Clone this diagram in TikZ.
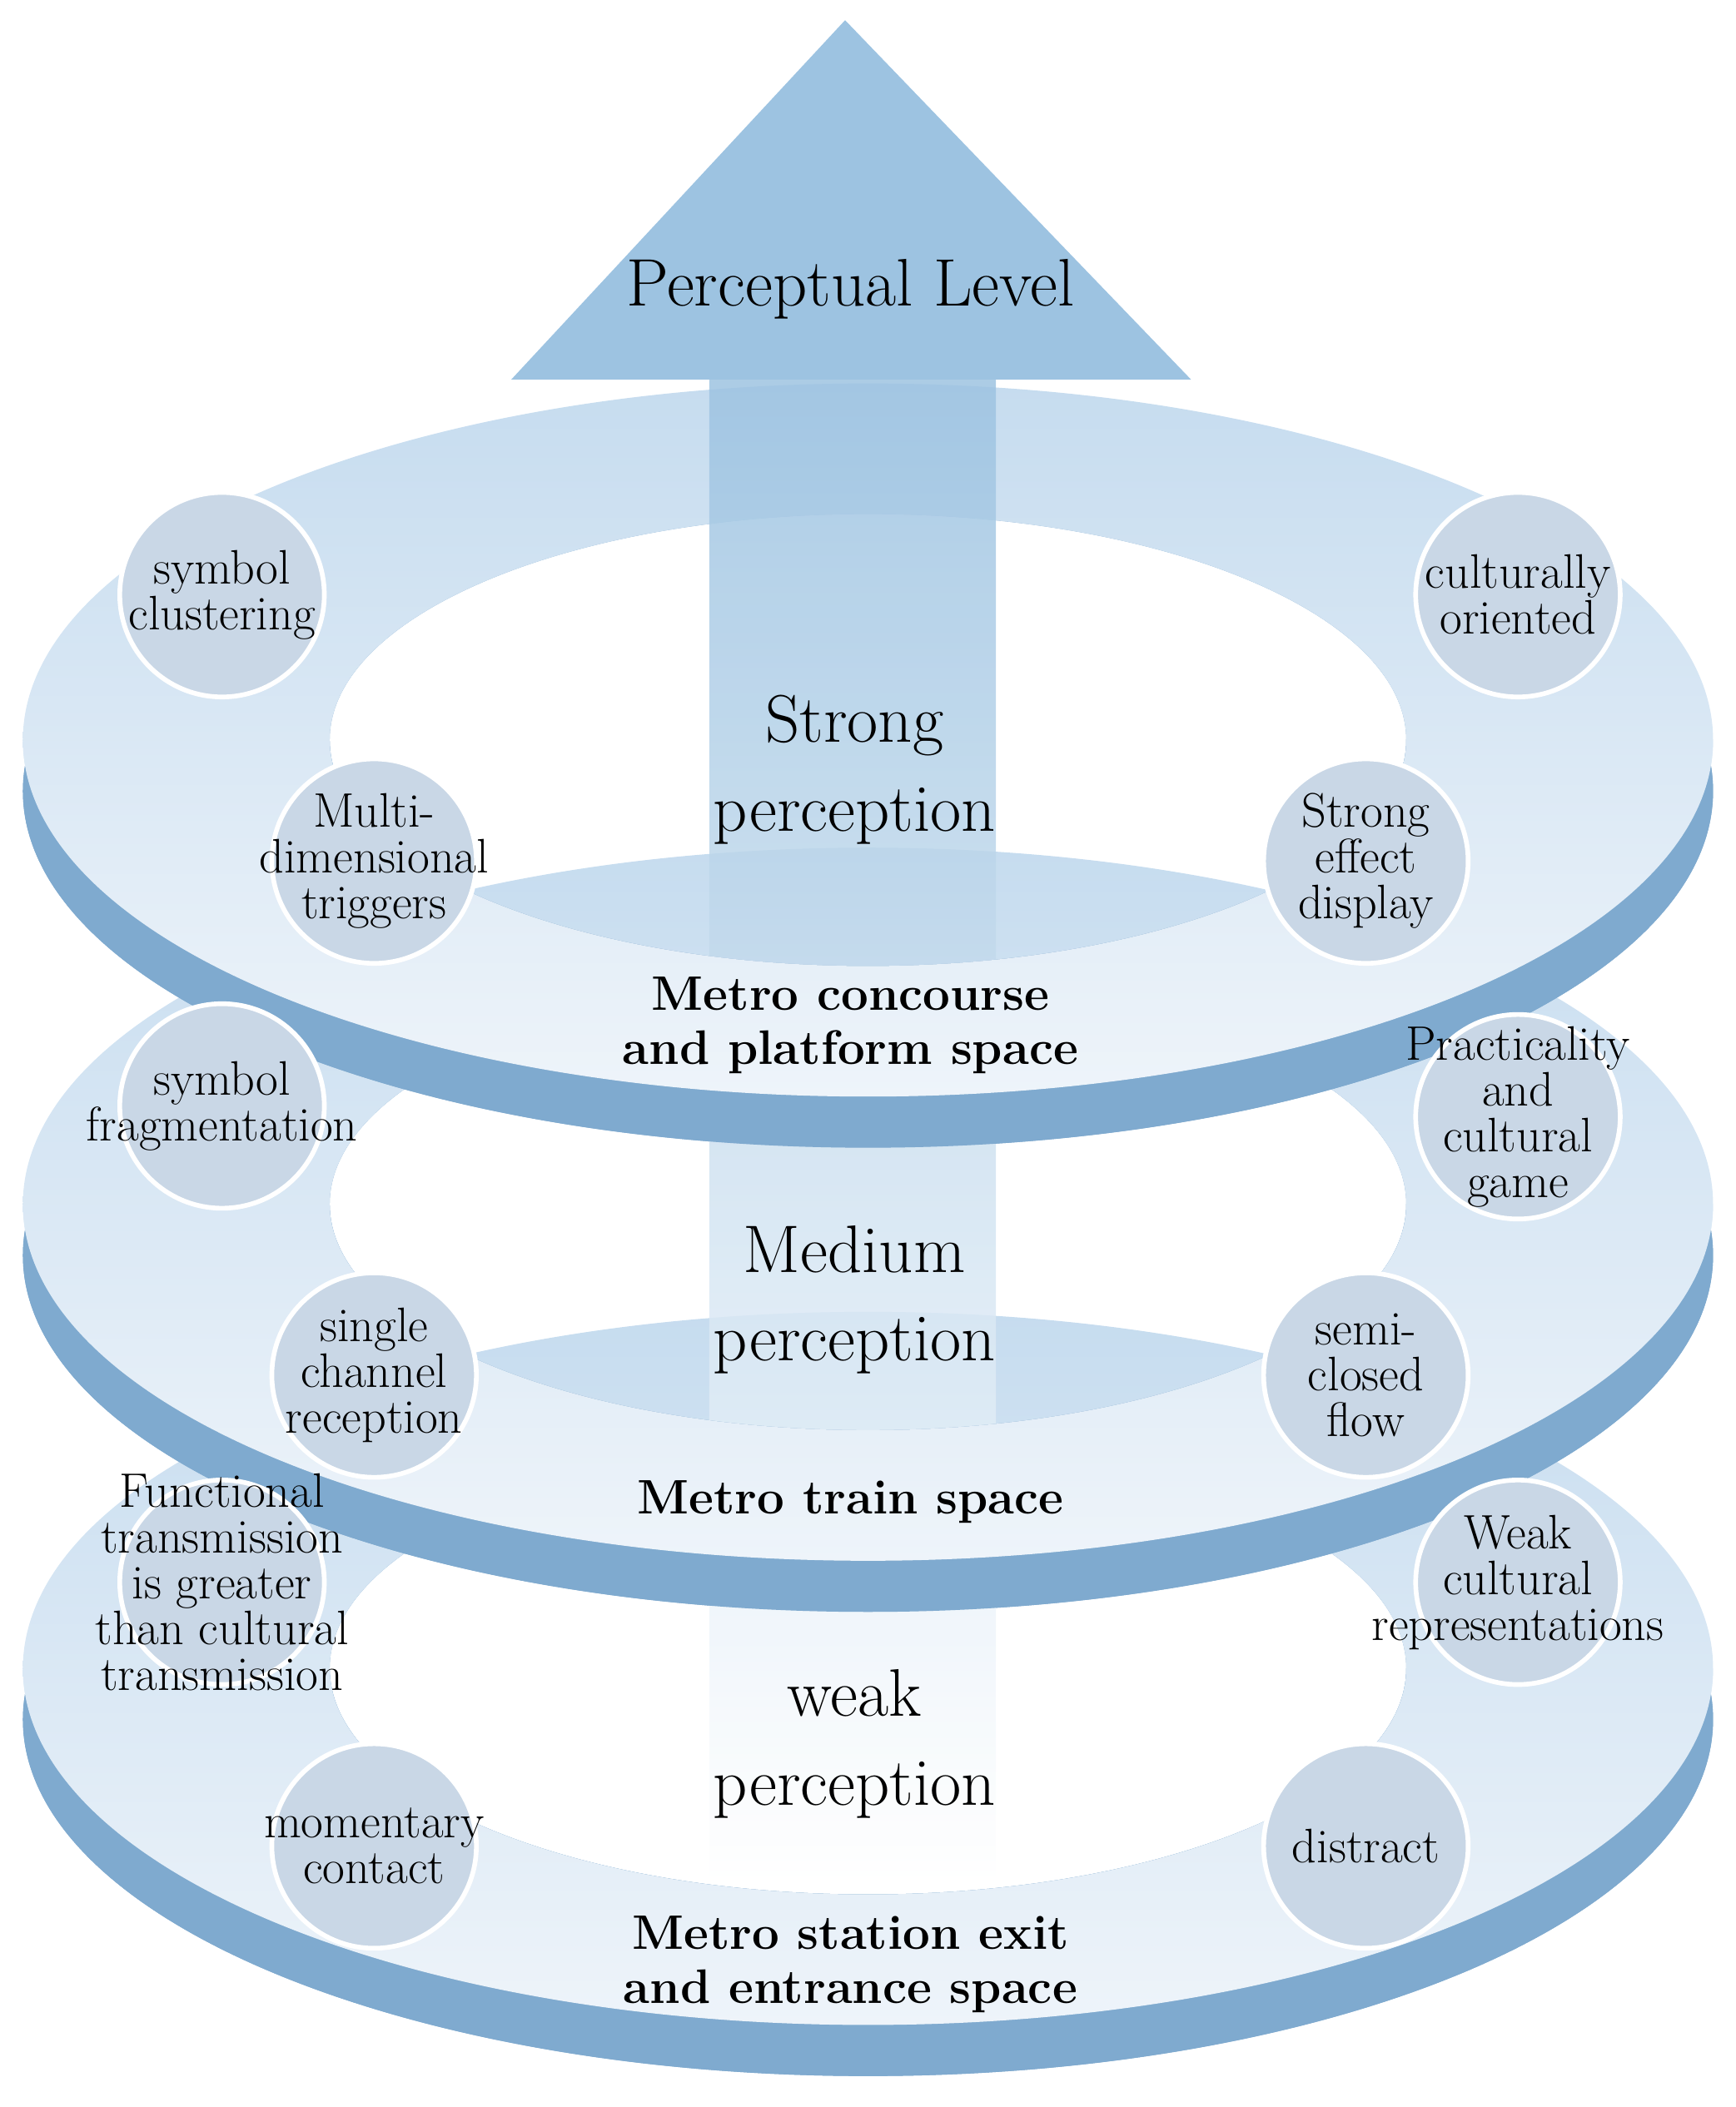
\documentclass[tikz,border=0pt]{standalone}
\usepackage{tikz}

\definecolor{ringtop}{HTML}{C6DCEF}
\definecolor{ringbot}{HTML}{EEF4FA}
\definecolor{ringside}{HTML}{7FAACF}
\definecolor{arrowblue}{HTML}{9DC3E1}
\definecolor{dotfill}{HTML}{C9D7E6}

\tikzset{
  RingSurface/.style = {even odd rule, top color=ringtop, bottom color=ringbot},
  RingSide/.style    = {even odd rule, fill=ringside},
  DotText/.style     = {align=center, inner sep=0pt,
                        font=\fontsize{36}{34}\selectfont},
  Dot/.style         = {circle, draw=white, line width=3.5pt, fill=dotfill,
                        minimum size=152pt, inner sep=0pt,
                        label={[DotText]center:#1}},
  SmallText/.style   = {DotText/.append style={font=\fontsize{31}{30}\selectfont}},
  TinyText/.style    = {DotText/.append style={font=\fontsize{23}{28}\selectfont}},
  BigLabel/.style    = {align=center, font=\fontsize{50}{66}\selectfont},
  PlaceLabel/.style  = {align=center, font=\bfseries\fontsize{36}{40}\selectfont}
}

% one ring, #1 = centre y
\newcommand\discring[1]{%
  \fill[RingSide] (645,#1+38) ellipse [x radius=628, y radius=265]
                  (645,#1) ellipse [x radius=400, y radius=168];
  \shade[RingSurface] (645,#1) ellipse [x radius=628, y radius=265]
                      (645,#1) ellipse [x radius=400, y radius=168];}
\newcommand\ringfront[1]{%
  \begin{scope}
    \clip (0,#1) rectangle (1290,1566);
    \discring{#1}
  \end{scope}}

\begin{document}
\begin{tikzpicture}[x=1pt,y=-1pt]
  \useasboundingbox (0,0) rectangle (1290,1566);

  % rings
  \discring{1240}
  \discring{895}
  \discring{550}

  % arrow
  \shade[top color=arrowblue, bottom color=white, opacity=0.85]
    (527,282) rectangle (740,1400);
  \fill[arrowblue] (380,282) -- (628,15) -- (885,282) -- cycle;

  \ringfront{1240}
  \ringfront{895}
  \ringfront{550}

  \node[BigLabel] (level) at (632,215) {Perceptual Level};

  % top ring
  \node[Dot={symbol\\clustering}] (clus) at (165,442) {};
  \node[Dot={culturally\\oriented}] (cult) at (1128,442) {};
  \node[Dot={Multi-\\dimensional\\triggers}] (multi) at (278,640) {};
  \node[Dot={Strong\\effect\\display}] (effect) at (1015,640) {};
  \node[BigLabel] (strong) at (635,572) {Strong\\perception};
  \node[PlaceLabel] (concourse) at (632,762) {Metro concourse\\and platform space};

  % middle ring
  \node[Dot={symbol\\fragmentation}] (frag) at (165,822) {};
  \node[SmallText, Dot={Practicality\\and\\cultural\\game}] (game) at (1128,830) {};
  \node[Dot={single\\channel\\reception}] (single) at (278,1022) {};
  \node[Dot={semi-\\closed\\flow}] (flow) at (1015,1022) {};
  \node[BigLabel] (medium) at (635,966) {Medium\\perception};
  \node[PlaceLabel] (train) at (632,1116) {Metro train space};

  % bottom ring
  \node[TinyText, Dot={Functional\\transmission\\is greater\\than cultural\\transmission}]
    (func) at (165,1176) {};
  \node[Dot={Weak\\cultural\\representations}] (weak) at (1128,1176) {};
  \node[Dot={momentary\\contact}] (moment) at (278,1372) {};
  \node[Dot={distract}] (distract) at (1015,1372) {};
  \node[BigLabel] (weakp) at (635,1296) {weak\\perception};
  \node[PlaceLabel] (exit) at (632,1460) {Metro station exit\\and entrance space};
\end{tikzpicture}
\end{document}
